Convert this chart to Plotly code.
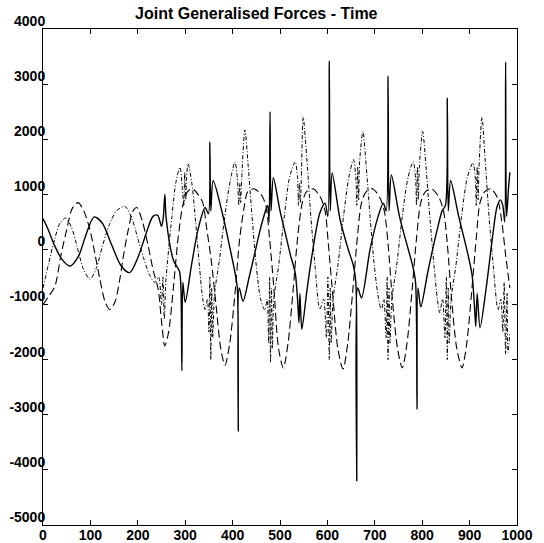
import plotly.graph_objects as go

# ---------------- data ----------------
solid_x = [0, 10, 25, 40, 57, 75, 92, 108, 125, 145, 165, 183, 200, 218, 232, 242, 250, 254, 257, 260,
           275, 288, 291, 293, 295, 300, 313, 327, 342, 349, 352, 354, 359, 378, 395, 405, 410, 412, 414,
           422, 435, 447, 458, 468, 474, 477, 479, 481, 486, 500, 511, 522, 532, 537, 540, 542, 546, 556,
           567, 584, 595, 601, 604, 606, 610, 627, 644, 655, 660, 662, 664, 672, 690, 707, 718, 724, 728,
           730, 735, 752, 769, 780, 786, 789, 791, 797, 812, 830, 842, 849, 853, 855, 860, 877, 894, 905,
           910, 913, 916, 922, 935, 948, 958, 965, 970, 974, 976, 978, 982, 985]
solid_y = [560, 380, 60, -180, -300, -120, 300, 590, 480, 80, -300, -420, -150, 300, 600, 620, 420, 600, 1000, 550,
           -190, -400, -700, -2200, -600, -960, -300, 360, 760, 650, 1950, 700, 1250, 670, 0, -420, -700, -3300, -700,
           -940, -500, -60, 350, 660, 800, 500, 2500, 700, 1300, 700, 300, -100, -420, -900, -1330, -800, -1450, -800,
           -130, 660, 840, 600, 3420, 700, 1390, 530, 0, -300, -600, -4200, -700, -880, 0, 600, 840, 700, 3150,
           700, 1350, 600, 50, -300, -600, -2900, -700, -1040, -400, 300, 700, 800, 2750, 700, 1250, 600, 0, -450,
           -1000, -1400, -800, -1420, -700, 200, 780, 900, 800, 500, 3400, 600, 1100, 1400]

dashed_x = [0, 12, 25, 38, 50, 62, 74, 86, 99, 110, 120, 131, 141, 152, 162, 171, 180, 190, 198, 210,
            222, 233, 243, 250, 257, 265, 275, 285, 295, 305, 315, 327, 337, 345, 355, 365, 375, 384, 394,
            405, 415, 425, 432, 445, 460, 470, 478, 487, 497, 507, 517, 527, 537, 547, 556, 570, 585, 595,
            602, 612, 622, 633, 643, 653, 663, 672, 682, 695, 710, 720, 728, 737, 748, 758, 768, 778, 788,
            797, 807, 820, 835, 845, 853, 862, 873, 884, 894, 904, 914, 922, 932, 945, 958, 968, 976, 985]
dashed_y = [-1000, -850, -670, -100, 360, 750, 850, 700, 360, -100, -540, -950, -1090, -950, -540, -50, 360, 700, 760, 500,
            60, -400, -720, -1300, -1750, -1500, -700, 200, 800, 1050, 1100, 1000, 850, 400, -200, -1000, -1800, -2100, -1700,
            -800, 200, 800, 1050, 1100, 1000, 800, 200, -700, -1800, -2150, -1700, -800, 200, 850, 1050, 1100, 950, 700,
            100, -900, -1800, -2170, -1700, -800, 200, 850, 1050, 1100, 950, 700, 100, -900, -1800, -2150, -1700, -800, 200,
            850, 1050, 1100, 950, 700, 100, -900, -1800, -2150, -1700, -800, 200, 850, 1050, 1100, 950, 500, -100, -700]

dashdot_x = [0, 12, 25, 36, 48, 60, 72, 85, 99, 112, 125, 140, 155, 173, 188, 200, 212, 224, 236, 244,
             250, 253, 256, 259, 265, 272, 280, 289, 294, 297, 299, 301, 303, 306, 314, 322, 330, 337, 342, 347,
             350, 352, 354, 356, 358, 362, 372, 382, 392, 400, 405, 410, 413, 415, 417, 419, 426, 433, 441, 450,
             459, 468, 473, 476, 478, 480, 482, 484, 487, 497, 509, 520, 532, 537, 539, 541, 543, 545, 549, 557,
             565, 574, 584, 592, 598, 601, 604, 606, 608, 612, 622, 634, 645, 655, 660, 662, 664, 666, 668, 675,
             682, 690, 699, 708, 714, 719, 724, 726, 728, 730, 732, 736, 746, 758, 770, 781, 786, 788, 790, 792,
             794, 801, 808, 816, 825, 832, 837, 843, 848, 851, 853, 855, 857, 861, 871, 883, 895, 907, 912, 914,
             916, 918, 920, 926, 933, 941, 950, 960, 966, 970, 973, 976, 979, 981, 985]
dashdot_y = [-700, -250, 200, 480, 570, 400, 50, -350, -540, -350, 50, 450, 700, 780, 550, 200, -150, -450, -600, -500,
             -1000, -500, -1270, -600, 0, 600, 1200, 1490, 1100, 800, 1400, 900, 1300, 1560, 1200, 500, -300, -900, -1090, -900,
             -1500, -500, -2000, -700, -1600, -800, -200, 500, 1100, 1450, 1590, 1300, 800, 1200, 850, 1250, 2170, 1500, 600, -300,
             -900, -1100, -900, -1700, -500, -2050, -700, -1800, -900, -300, 600, 1300, 1590, 1300, 800, 1200, 850, 1300, 2400, 1600,
             600, -300, -1090, -900, -1600, -500, -2000, -700, -1700, -900, -300, 600, 1300, 1630, 1300, 800, 1500, 900, 1600, 2140,
             1500, 600, -300, -900, -1100, -900, -1600, -500, -2000, -700, -1700, -900, -300, 600, 1300, 1590, 1300, 800, 1500, 900,
             1500, 2140, 1500, 600, -300, -900, -1150, -900, -1600, -500, -2000, -700, -1700, -900, -300, 600, 1300, 1570, 1300, 800,
             1500, 900, 1500, 2400, 1600, 600, -300, -1100, -900, -1500, -600, -1900, -800, -1870, -1500]

x_ticks = [0, 100, 200, 300, 400, 500, 600, 700, 800, 900, 1000]
y_ticks = [-5000, -4000, -3000, -2000, -1000, 0, 1000, 2000, 3000, 4000]
title_text = "Joint Generalised Forces - Time"

# ---------------- figure ----------------
fig = go.Figure()
fig.add_trace(go.Scatter(x=dashdot_x, y=dashdot_y, mode="lines",
                         line=dict(color="black", width=1, dash="4px,2px,1px,2px", shape="spline", smoothing=0.8)))
fig.add_trace(go.Scatter(x=dashed_x, y=dashed_y, mode="lines",
                         line=dict(color="black", width=1.1, dash="8px,4px", shape="spline", smoothing=0.8)))
fig.add_trace(go.Scatter(x=solid_x, y=solid_y, mode="lines",
                         line=dict(color="black", width=1.4, shape="spline", smoothing=0.8)))

tickfont = dict(family="Liberation Sans, Arial, sans-serif", size=14, color="black", weight="bold")
fig.update_layout(
    width=544, height=543,
    margin=dict(l=43, r=27, t=29, b=18),
    paper_bgcolor="white", plot_bgcolor="white",
    showlegend=False,
    hovermode=False,
    title=dict(text=title_text, x=0.45, xref="paper", y=0.976, yref="container",
               xanchor="center", yanchor="middle",
               font=dict(family="Liberation Sans, Arial, sans-serif", size=16, color="black", weight="bold")),
)
fig.update_xaxes(range=[0, 1000], tickvals=x_ticks, ticktext=[str(v) for v in x_ticks], automargin=False,
                 showgrid=False, zeroline=False, showline=True, linecolor="black", linewidth=1,
                 mirror="ticks", ticks="inside", ticklen=5, tickcolor="black", tickfont=tickfont,
                 ticklabelstandoff=-3)
fig.update_yaxes(range=[-5000, 4000], tickvals=y_ticks, ticktext=[str(v) for v in y_ticks], automargin=False,
                 showgrid=False, zeroline=False, showline=True, linecolor="black", linewidth=1,
                 mirror="ticks", ticks="inside", ticklen=5, tickcolor="black", tickfont=tickfont,
                 ticklabelstandoff=-6, ticklabelshift=-8)

# remove the default page margin so the figure fills the window exactly
fig.write_html("out.html", config={"displayModeBar": False},
               post_script="document.body.style.margin='0';")
